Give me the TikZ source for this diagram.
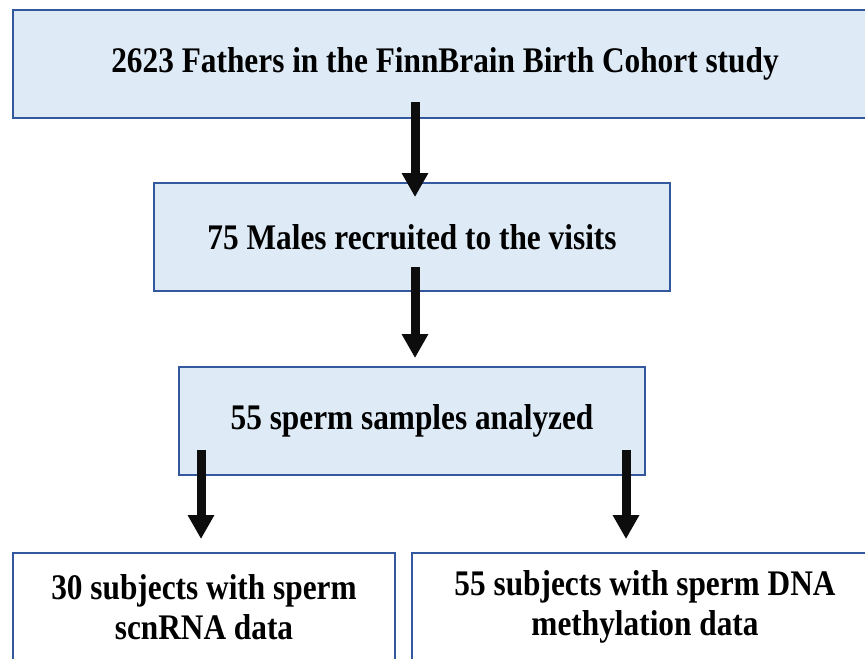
\documentclass[tikz,border=0pt]{standalone}
\usepackage{fontspec}
\setmainfont{Liberation Serif}[FakeStretch=0.87]
\usepackage{tikz}
\usetikzlibrary{arrows.meta, calc}

\definecolor{boxfill}{HTML}{DEEBF7}
\definecolor{boxline}{RGB}{52,88,158}

\tikzset{
  stagebox/.style={draw=boxline, line width=1.4pt, fill=boxfill, inner sep=0pt,
    minimum height=81pt, align=center, font=\bfseries\fontsize{27}{30}\selectfont},
  endbox/.style={stagebox, fill=white},
  flowarrow/.style={line width=6.75pt, draw=black!95,
    -{Triangle[width=18.75pt,length=18pt]}}
}

\begin{document}
\begin{tikzpicture}[x=0.75pt,y=0.75pt,yscale=-1]
\useasboundingbox (0,0) rectangle (865,659);

%Shape: Rectangle [cohort]
\node[stagebox, minimum width=648pt] (cohort) at (445,64) {2623 Fathers in the FinnBrain Birth Cohort study};
%Shape: Rectangle [recruited]
\node[stagebox, minimum width=387pt] (recruited) at (412,237) {75 Males recruited to the visits};
%Shape: Rectangle [analyzed]
\node[stagebox, minimum width=349.5pt] (analyzed) at (412,421) {55 sperm samples analyzed};
%Shape: Rectangle [rnadata]
\node[endbox, minimum width=286.5pt] (rnadata) at (204,607) {30 subjects with sperm\\scnRNA data};
%Shape: Rectangle [dnadata]
\node[endbox, minimum width=349.5pt] (dnadata) at (645,607) {55 subjects with sperm DNA\\methylation data};

% Arrows
\draw[flowarrow] ($(recruited.north)+(3,-80)$) -- ($(recruited.north)+(3,15)$);
\draw[flowarrow] ($(analyzed.north)+(3,-99)$) -- ($(analyzed.north)+(3,-8)$);
\draw[flowarrow] ($(analyzed.south)+(-211,-26)$) -- ($(rnadata.north)+(-3,-13)$);
\draw[flowarrow] ($(analyzed.south)+(214,-26)$) -- ($(dnadata.north)+(-19,-13)$);

\end{tikzpicture}
\end{document}
